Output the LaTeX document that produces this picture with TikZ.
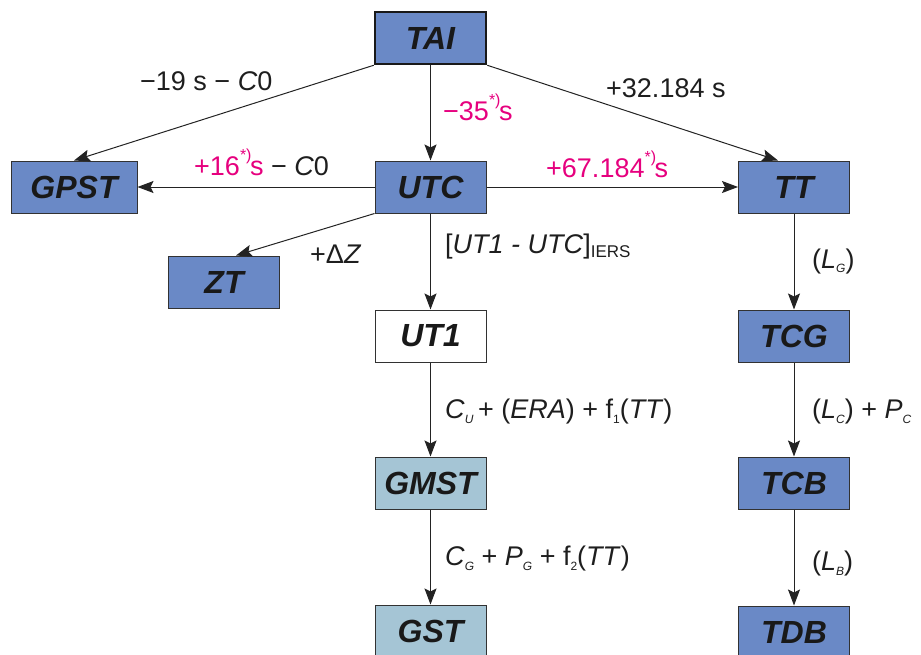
\documentclass[tikz,border=0pt]{standalone}
\usepackage{fontspec}
\setmainfont{Liberation Sans}
\usetikzlibrary{positioning, arrows.meta, calc}

% small lowered index and the *) note
\newcommand{\lowidx}[1]{\raisebox{-0.35ex}{\fontsize{12}{12}\selectfont #1}}
\newcommand{\starnote}{\makebox[10pt][l]{\raisebox{15pt}{\fontsize{16}{16}\selectfont *)}}}

\begin{document}
\begin{tikzpicture}[x=1pt, y=-1pt, >={Stealth[length=16pt, width=12pt, inset=3pt]},
    timebox/.style={draw=boxline, fill=boxblue, line width=1pt, text=boxtext,
        minimum width=111pt, minimum height=52pt, inner sep=0pt,
        font=\fontsize{32}{36}\selectfont\bfseries\itshape},
    lbl/.style={anchor=base west, inner sep=0pt, text=labeltext,
        font=\fontsize{27}{30}\selectfont},
    conn/.style={->, draw=lineclr, line width=1pt}]
    \colorlet{boxblue}{rgb,255:red,106;green,137;blue,198}
    \colorlet{boxlight}{rgb,255:red,165;green,197;blue,213}
    \colorlet{boxline}{rgb,255:red,50;green,50;blue,50}
    \colorlet{boxtext}{rgb,255:red,25;green,25;blue,25}
    \colorlet{labeltext}{rgb,255:red,30;green,30;blue,30}
    \colorlet{lineclr}{rgb,255:red,35;green,35;blue,35}
    \colorlet{notemag}{rgb,255:red,230;green,0;blue,126}

    \useasboundingbox (0,0) rectangle (921,654);

    % --- Time scales ---
    \node[timebox, line width=2.5pt, draw=boxtext] (TAI) at (430.5, 38) {TAI};
    \node[timebox, minimum width=126pt] (GPST) at (74, 187) {GPST};
    \node[timebox] (UTC) at (430.5, 187) {UTC};
    \node[timebox] (TT) at (794, 187) {TT};
    \node[timebox] (ZT) at (224, 282) {ZT};
    \node[timebox, fill=white] (UT1) at (430.5, 336) {UT1};
    \node[timebox, fill=boxlight] (GMST) at (430.5, 483) {GMST};
    \node[timebox, fill=boxlight] (GST) at (430.5, 631) {GST};
    \node[timebox] (TCG) at (794, 336) {TCG};
    \node[timebox] (TCB) at (794, 483) {TCB};
    \node[timebox] (TDB) at (794, 632) {TDB};

    % --- Connectors ---
    \draw[conn] (TAI.south west) -- (GPST.north);
    \draw[conn] (TAI) -- (UTC);
    \draw[conn] (TAI.south east) -- ([xshift=-16pt]TT.north);
    \draw[conn] (UTC) -- (GPST);
    \draw[conn] (UTC) -- (TT);
    \draw[conn] (UTC.south west) -- ([xshift=12pt]ZT.north);
    \draw[conn] (UTC) -- (UT1);
    \draw[conn] (UT1) -- (GMST);
    \draw[conn] (GMST) -- (GST);
    \draw[conn] (TT) -- (TCG);
    \draw[conn] (TCG) -- (TCB);
    \draw[conn] (TCB) -- (TDB);

    % --- Labels ---
    \node[lbl] (lGPS) at (140, 90) {−19 s − \textit{C}0};
    \node[lbl, text=notemag] (lUTC) at (443, 120) {−35\starnote s};
    \node[lbl] (lTT) at (606, 97) {+32.184 s};
    \node[lbl] (lUTCGPS) at (194, 175) {\textcolor{notemag}{+16\starnote s} − \textit{C}0};
    \node[lbl, text=notemag] (lUTCTT) at (546, 177) {+67.184\starnote s};
    \node[lbl] (lZT) at (310, 263) {+Δ\textit{Z}};
    \node[lbl] (lUT1) at (445, 253) {[\textit{UT1 - UTC}]\raisebox{-0.3ex}{\fontsize{17}{17}\selectfont IERS}};
    \node[lbl] (lGMST) at (445, 418) {\textit{C}\lowidx{\textit{U}}\,+ (\textit{ERA}) + f\lowidx{1}(\textit{TT})};
    \node[lbl] (lGST) at (445, 565) {\textit{C}\lowidx{\textit{G}} + \textit{P}\lowidx{\textit{G}} + f\lowidx{2}(\textit{TT})};
    \node[lbl] (lTCG) at (812, 268) {(\textit{L}\lowidx{\textit{G}})};
    \node[lbl] (lTCB) at (812, 418) {(\textit{L}\lowidx{\textit{C}}) + \textit{P}\lowidx{\textit{C}}};
    \node[lbl] (lTDB) at (812, 570) {(\textit{L}\lowidx{\textit{B}})};
\end{tikzpicture}
\end{document}
